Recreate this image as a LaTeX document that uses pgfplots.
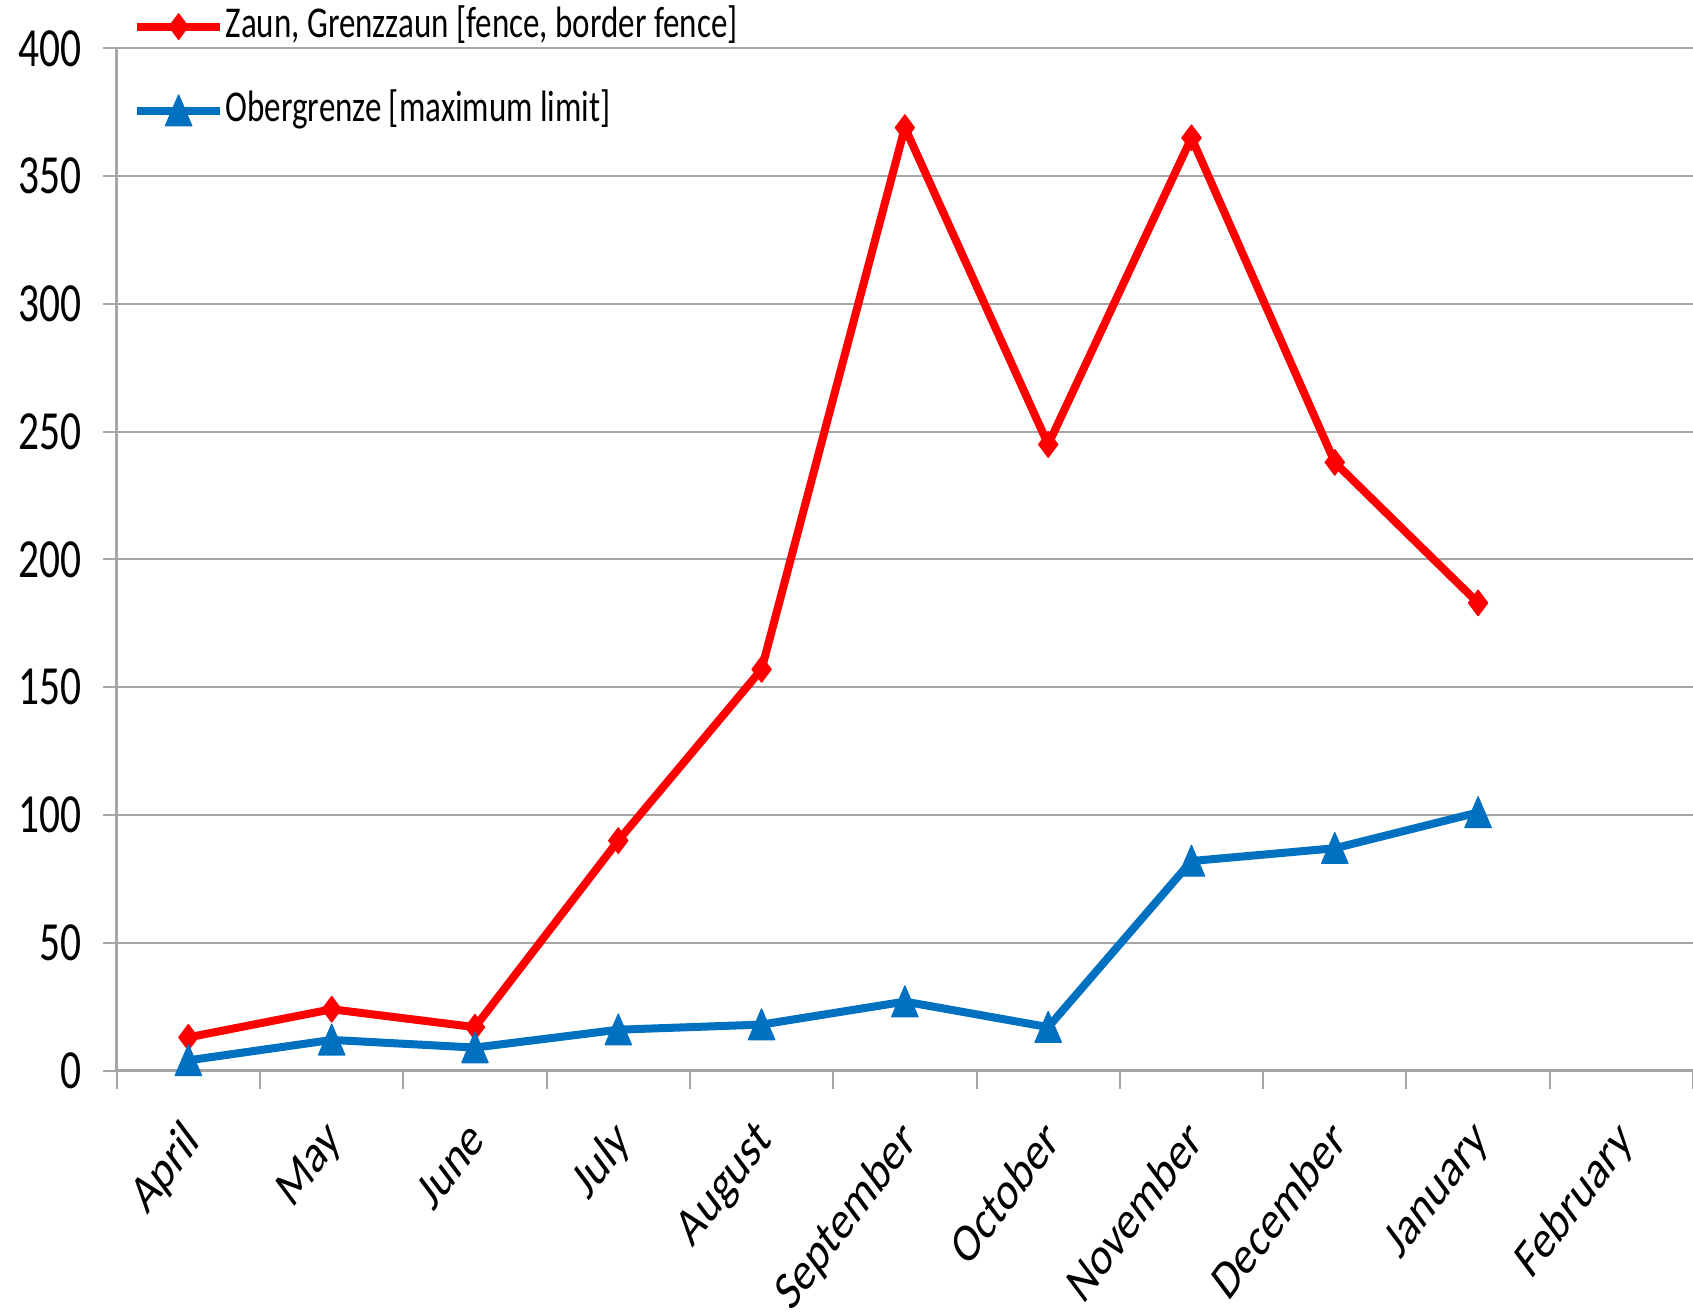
\documentclass[border=0pt]{standalone}
\usepackage{pgfplots}
\pgfplotsset{compat=1.18}
\usepackage{fontspec}
\setmainfont{Carlito}
\newfontfamily\tickfont{Carlito}[FakeStretch=0.75]
\newfontfamily\monthfont{Carlito}[FakeSlant=0.29]
\definecolor{zred}{HTML}{FF0000}
\definecolor{oblue}{HTML}{0070C0}
\definecolor{gridgray}{HTML}{A6A6A6}
\begin{document}
\begin{tikzpicture}
\begin{axis}[
  name=ax,
  scale only axis, width=394pt, height=255.5pt,
  xmin=-0.5, xmax=10.5, ymin=0, ymax=400,
  axis lines=left,
  axis line style={-, draw=gridgray, line width=0.7pt},
  xtick={0,...,10},
  xticklabels={April,May,June,July,August,September,October,November,December,January,February},
  minor xtick={-0.5,0.5,...,10.5},
  ytick={0,50,...,400},
  ymajorgrids,
  grid style={draw=gridgray, line width=0.5pt},
  tick align=outside,
  major tick length=3.5pt, minor tick length=4.5pt,
  tick style={draw=gridgray, line width=0.5pt},
  major x tick style={draw=none},
  /pgf/number format/assume math mode=true,
  yticklabel style={font=\tickfont\fontsize{13.8}{15}\selectfont, xshift=-1.8pt},
  xticklabel style={font=\monthfont\fontsize{11.8}{13}\selectfont, xshift=-3.3pt, yshift=-9.6pt, rotate=53, anchor=north east, inner sep=0pt},
  legend cell align=left,
  legend image code/.code={\draw[mark repeat=2,mark phase=2,#1] plot coordinates {(0pt,0pt)(10.375pt,0pt)(20.75pt,0pt)};},
  legend style={draw=none, fill=none, at={(axis description cs:0,1)}, anchor=north west,
    xshift=3.9pt, yshift=10.9pt, font=\tickfont\fontsize{11}{13}\selectfont,
    row sep=10.5pt, column sep=0.4pt, inner sep=0pt,
    nodes={inner sep=0pt, text height=8pt, text depth=2.5pt}},
]
\addplot[zred, line width=2pt, line join=round, mark=diamond*, mark size=3.2pt,
  mark options={solid, line width=0.3pt}]
  coordinates {(0,13)(1,24)(2,17)(3,90)(4,157)(5,369)(6,245)(7,365)(8,238)(9,183)};
\addlegendentry{Zaun, Grenzzaun [fence, border fence]}
\addplot[oblue, line width=2pt, line join=round, mark=triangle*, mark size=3.8pt,
  mark options={solid, line width=0.3pt, yshift=-1.2pt, yscale=1.35}]
  coordinates {(0,4)(1,12)(2,9)(3,16)(4,18)(5,27)(6,17)(7,82)(8,87)(9,101)};
\addlegendentry{Obergrenze [maximum limit]}
\end{axis}
\pgfresetboundingbox
\path ([shift={(-29.175pt,-60.75pt)}]ax.south west) rectangle ([shift={(0pt,12.1pt)}]ax.north east);
\end{tikzpicture}
\end{document}
